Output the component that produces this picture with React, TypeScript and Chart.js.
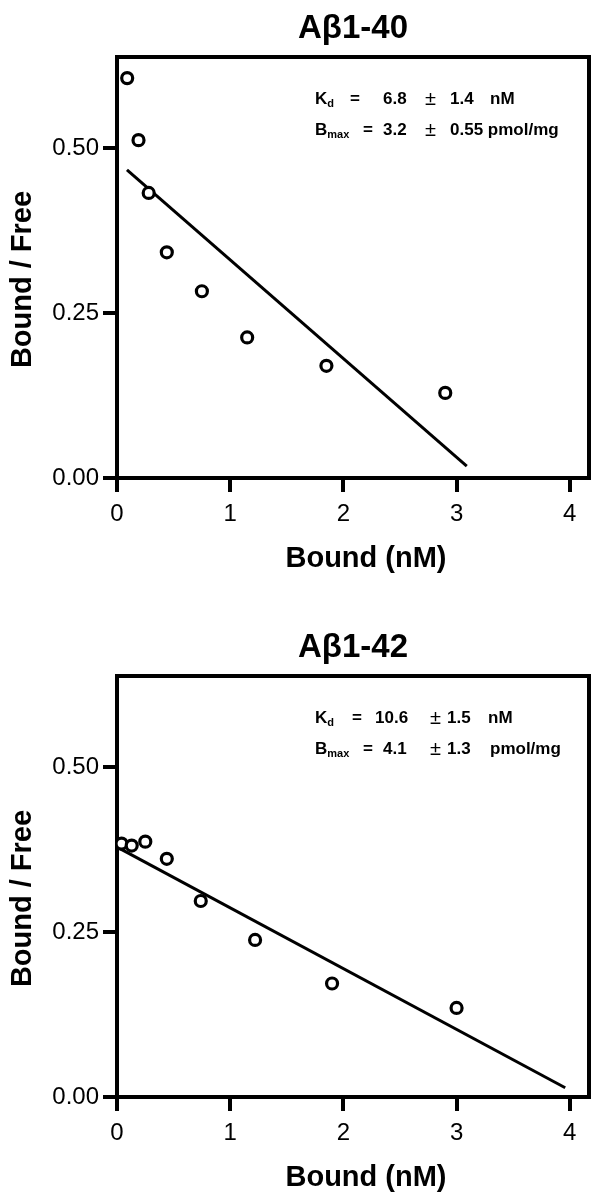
import React, { useEffect, useRef } from 'react';
import { Chart, registerables } from 'chart.js';

Chart.register(...registerables);

const FONT = '"Liberation Sans", Arial, Helvetica, sans-serif';

// tick values
const xTickValues = [0, 1, 2, 3, 4];
const yTickValues = [0, 0.25, 0.5];

// Aβ1-40
const boundA40 = [0.09, 0.19, 0.28, 0.44, 0.75, 1.15, 1.85, 2.9];
const ratioA40 = [0.606, 0.512, 0.432, 0.342, 0.283, 0.213, 0.17, 0.129];
const fitXA40 = [0.088, 3.09];
const fitYA40 = [0.467, 0.018];

// Aβ1-42
const boundA42 = [0.04, 0.13, 0.25, 0.44, 0.74, 1.22, 1.9, 3.0];
const ratioA42 = [0.384, 0.381, 0.387, 0.361, 0.297, 0.238, 0.172, 0.135];
const fitXA42 = [0.03, 3.96];
const fitYA42 = [0.376, 0.014];

const titleA40 = 'Aβ1-40';
const titleA42 = 'Aβ1-42';
const xTitle = 'Bound (nM)';
const yTitle = 'Bound / Free';
const paramsA40 = [
  ['K', 'd', '=', '6.8', '±', '1.4', 'nM'],
  ['B', 'max', '=', '3.2', '±', '0.55 pmol/mg', ''],
];
const paramsA42 = [
  ['K', 'd', '=', '10.6', '±', '1.5', 'nM'],
  ['B', 'max', '=', '4.1', '±', '1.3', 'pmol/mg'],
];

type PanelProps = {
  title: string;
  xs: number[];
  ys: number[];
  fitX: number[];
  fitY: number[];
  params: string[][];
  height: number;
  top: number;
  padTop: number;
  padBottom: number;
  colX: number[][];
};

const boxPlugin = {
  id: 'boxAndText',
  afterDraw(chart: any) {
    const opts = chart.options.plugins.boxAndText;
    const { ctx, chartArea } = chart;
    const { left, top, right, bottom } = chartArea;
    ctx.save();
    ctx.strokeStyle = '#000';
    ctx.lineWidth = 4;
    ctx.beginPath();
    ctx.moveTo(left, top);
    ctx.lineTo(right, top);
    ctx.lineTo(right, bottom);
    ctx.stroke();

    ctx.fillStyle = '#000';
    ctx.textAlign = 'center';
    ctx.textBaseline = 'alphabetic';
    ctx.font = `bold 33px ${FONT}`;
    ctx.fillText(opts.title, (left + right) / 2, top - 19);

    // x title
    ctx.font = `bold 29px ${FONT}`;
    ctx.textBaseline = 'middle';
    ctx.fillText(xTitle, (left + right) / 2 + 13, bottom + 81);

    // y title
    ctx.save();
    ctx.translate(23, (top + bottom) / 2 + 12);
    ctx.rotate(-Math.PI / 2);
    ctx.fillText(yTitle, 0, 0);
    ctx.restore();

    ctx.textAlign = 'left';
    ctx.textBaseline = 'alphabetic';
    const rowsY = [top + 47, top + 78];
    opts.params.forEach((row: string[], r: number) => {
      const y = rowsY[r];
      const cx = opts.colX[r];
      ctx.font = `bold 17px ${FONT}`;
      ctx.fillText(row[0], left + 198, y);
      const w = ctx.measureText(row[0]).width;
      ctx.font = `bold 11px ${FONT}`;
      ctx.fillText(row[1], left + 198 + w, y + 3);
      ctx.font = `bold 17px ${FONT}`;
      ctx.fillText(row[2], left + cx[0], y);
      ctx.fillText(row[3], left + cx[1], y);
      ctx.font = `20px ${FONT}`;
      ctx.fillText(row[4], left + cx[2], y + 1);
      ctx.font = `bold 17px ${FONT}`;
      ctx.fillText(row[5], left + cx[3], y);
      if (row[6]) ctx.fillText(row[6], left + cx[4], y);
    });
    ctx.restore();
  },
};

function Panel(p: PanelProps) {
  const ref = useRef<HTMLCanvasElement>(null);
  useEffect(() => {
    if (!ref.current) return;
    const chart = new Chart(ref.current, {
      type: 'scatter',
      data: {
        datasets: [
          {
            type: 'scatter',
            data: p.xs.map((x, i) => ({ x, y: p.ys[i] })),
            pointStyle: 'circle',
            pointRadius: 5.5,
            borderWidth: 3.2,
            borderColor: '#000',
            backgroundColor: '#fff',
          },
          {
            type: 'line',
            data: p.fitX.map((x, i) => ({ x, y: p.fitY[i] })),
            borderColor: '#000',
            borderWidth: 3,
            pointRadius: 0,
            fill: false,
          } as any,
        ],
      },
      options: {
        animation: false,
        responsive: false,
        devicePixelRatio: 1,
        layout: { padding: { top: p.padTop, right: 11, bottom: p.padBottom, left: 0 } },
        plugins: {
          legend: { display: false },
          tooltip: { enabled: false },
          boxAndText: { title: p.title, params: p.params, colX: p.colX },
        } as any,
        scales: {
          x: {
            type: 'linear',
            min: 0,
            max: 4.17,
            afterFit: (s: any) => {
              s.height = 100;
            },
            afterBuildTicks: (s: any) => {
              s.ticks = xTickValues.map((v) => ({ value: v }));
            },
            ticks: {
              color: '#000',
              font: { family: FONT, size: 24 },
              padding: 8,
              maxRotation: 0,
              callback: (v: any) => String(v),
            },
            grid: {
              display: true,
              drawOnChartArea: false,
              drawTicks: true,
              tickLength: 14,
              lineWidth: 4,
              color: '#000',
            },
            border: { display: true, width: 4, color: '#000' },
            title: { display: false },
          },
          y: {
            type: 'linear',
            min: 0,
            max: 0.638,
            afterFit: (s: any) => {
              s.width = 117;
            },
            afterBuildTicks: (s: any) => {
              s.ticks = yTickValues.map((v) => ({ value: v }));
            },
            ticks: {
              color: '#000',
              font: { family: FONT, size: 24 },
              padding: 4,
              callback: (v: any) => Number(v).toFixed(2),
            },
            grid: {
              display: true,
              drawOnChartArea: false,
              drawTicks: true,
              tickLength: 14,
              lineWidth: 4,
              color: '#000',
            },
            border: { display: true, width: 4, color: '#000' },
            title: { display: false },
          },
        },
      } as any,
      plugins: [boxPlugin],
    });
    return () => chart.destroy();
  }, []);
  return (
    <canvas
      ref={ref}
      width={600}
      height={p.height}
      style={{ position: 'absolute', left: 0, top: p.top, display: 'block' }}
    />
  );
}

export default function App() {
  return (
    <div style={{ position: 'absolute', left: 0, top: 0, width: 600, height: 1199, background: '#fff' }}>
      <Panel
        title={titleA40}
        xs={boundA40}
        ys={ratioA40}
        fitX={fitXA40}
        fitY={fitYA40}
        params={paramsA40}
        height={600}
        top={0}
        padTop={57}
        padBottom={22}
        colX={[
          [233, 266, 308, 333, 373],
          [246, 266, 308, 333, 0],
        ]}
      />
      <Panel
        title={titleA42}
        xs={boundA42}
        ys={ratioA42}
        fitX={fitXA42}
        fitY={fitYA42}
        params={paramsA42}
        height={599}
        top={600}
        padTop={76}
        padBottom={2}
        colX={[
          [235, 258, 313, 330, 371],
          [246, 266, 313, 330, 373],
        ]}
      />
    </div>
  );
}
